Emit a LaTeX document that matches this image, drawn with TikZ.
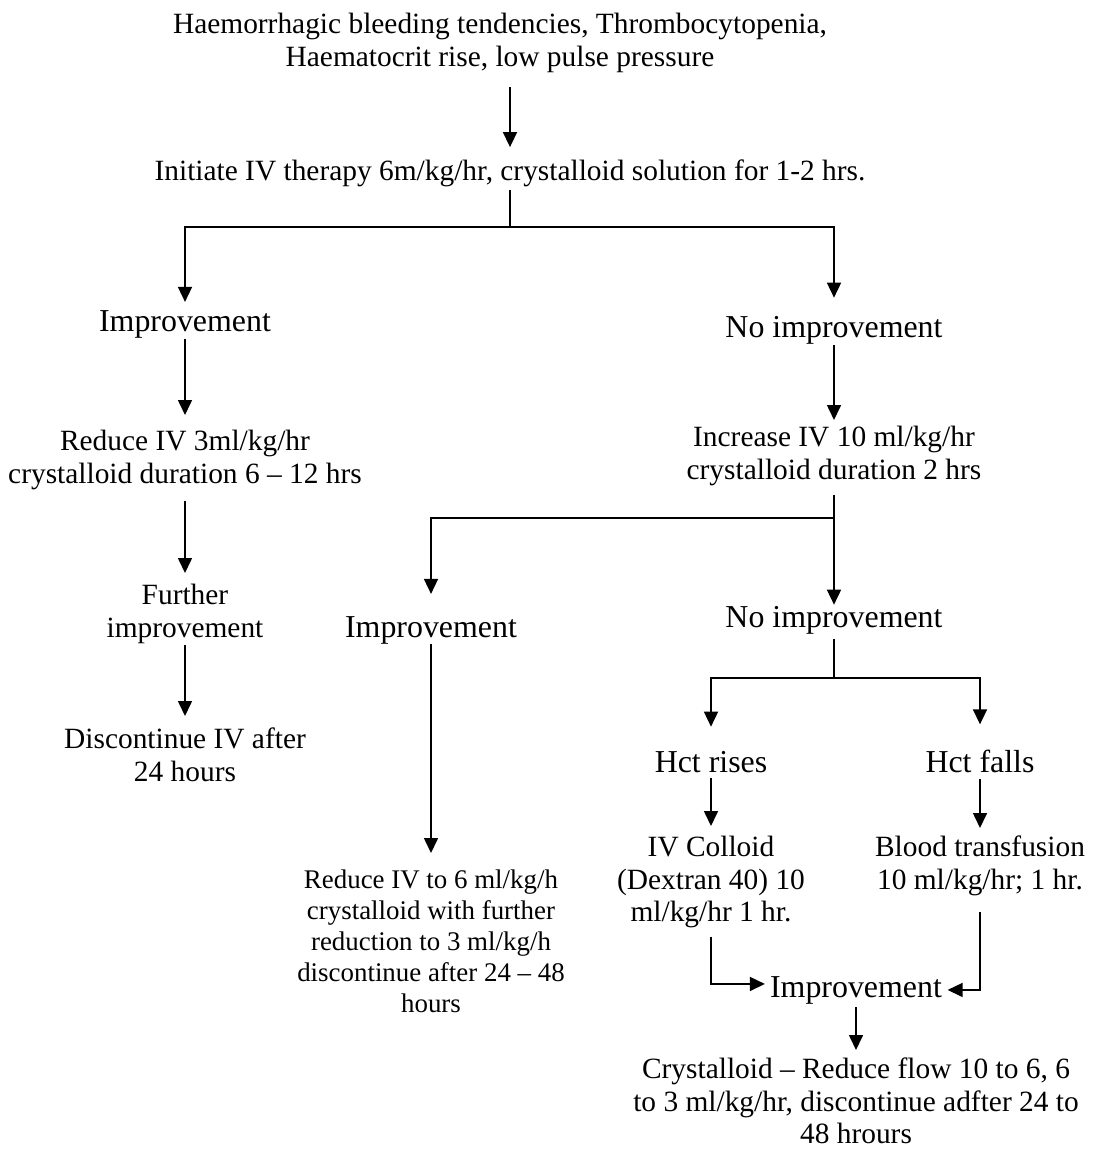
\documentclass[tikz,border=0pt]{standalone}
\usepackage{fontspec}
\setmainfont{Liberation Serif}
\usetikzlibrary{arrows.meta}
\begin{document}
\begin{tikzpicture}[x=1pt,y=-1pt,
  txt/.style={inner sep=0pt, align=center, font=\fontsize{29.4}{32.5}\selectfont},
  big/.style={inner sep=0pt, align=center, font=\fontsize{31.9}{36.7}\selectfont},
  small/.style={inner sep=0pt, align=center, font=\fontsize{26.9}{30.9}\selectfont},
  ln/.style={line width=1.6pt},
  arr/.style={line width=1.6pt, -{Triangle[length=15pt,width=14pt]}}]
\useasboundingbox (0,0) rectangle (1094,1153);
\fill[white] (0,0) rectangle (1094,1153);

\node[txt, anchor=north, font=\fontsize{29.4}{33.5}\selectfont] (top) at (500,12.9) {Haemorrhagic bleeding tendencies, Thrombocytopenia,\\ Haematocrit rise, low pulse pressure};
\node[txt, anchor=base] (init) at (510,180) {Initiate IV therapy 6m/kg/hr, crystalloid solution for 1-2 hrs.};
\node[big, anchor=base] (imp1) at (185,331) {Improvement};
\node[big, anchor=base] (noimp1) at (834,337) {No improvement};
\node[txt, anchor=north] (red1) at (185,430) {Reduce IV 3ml/kg/hr\\crystalloid duration 6 – 12 hrs};
\node[txt, anchor=north] (inc) at (834,426) {Increase IV 10 ml/kg/hr\\crystalloid duration 2 hrs};
\node[txt, anchor=north] (further) at (185,584) {Further\\improvement};
\node[txt, anchor=north] (disc) at (185,728) {Discontinue IV after\\24 hours};
\node[big, anchor=base] (imp2) at (431,637) {Improvement};
\node[big, anchor=base] (noimp2) at (834,627) {No improvement};
\node[small, anchor=north] (red2) at (431,869.6) {Reduce IV to 6 ml/kg/h\\crystalloid with further\\reduction to 3 ml/kg/h\\discontinue after 24 – 48\\hours};
\node[big, anchor=base] (hctr) at (711,772) {Hct rises};
\node[big, anchor=base] (hctf) at (980,772) {Hct falls};
\node[txt, anchor=north] (coll) at (711,836) {IV Colloid\\(Dextran 40) 10\\ml/kg/hr 1 hr.};
\node[txt, anchor=north] (blood) at (980,836) {Blood transfusion\\10 ml/kg/hr; 1 hr.};
\node[big, anchor=base] (imp3) at (856,997) {Improvement};
\node[txt, anchor=north] (final) at (856,1058) {Crystalloid – Reduce flow 10 to 6, 6\\to 3 ml/kg/hr, discontinue adfter 24 to\\48 hrours};

\coordinate (j1) at (510,227);
\coordinate (j2) at (834,518);
\coordinate (j3) at (834,678);

\draw[arr, shorten <=13.6pt, shorten >=12pt] (init.north |- top.south) -- (init.north);
\draw[ln, shorten <=3.6pt] (init.south) -- (j1);
\draw[arr, shorten >=8pt] (j1) -| (imp1.north);
\draw[arr, shorten >=18pt] (j1) -| (noimp1.north);
\draw[arr, shorten <=1pt, shorten >=15pt] (imp1.south) -- (red1.north);
\draw[arr, shorten <=1pt, shorten >=6pt] (noimp1.south) -- (inc.north);
\draw[arr, shorten <=11pt, shorten >=11pt] (red1.south) -- (further.north);
\draw[arr, shorten <=1.6pt, shorten >=12pt] (further.south) -- (disc.north);
\draw[ln, shorten <=9pt] (inc.south) -- (j2);
\draw[arr, shorten >=1pt] (j2) -- (noimp2.north);
\draw[arr, shorten >=22pt] (j2) -| (imp2.north);
\draw[arr, shorten >=16.6pt] (imp2.south) -- (red2.north);
\draw[ln, shorten <=5pt] (noimp2.south) -- (j3);
\draw[arr, shorten >=24pt] (j3) -| (hctr.north);
\draw[arr, shorten >=25pt] (j3) -| (hctf.north);
\draw[arr, shorten <=5pt, shorten >=10pt] (hctr.south) -- (coll.north);
\draw[arr, shorten <=6pt, shorten >=8pt] (hctf.south) -- (blood.north);
\draw[arr, shorten <=8.5pt, shorten >=5pt] (coll.south) |- ([yshift=6pt]imp3.west);
\draw[arr, shorten <=16pt, shorten >=5.5pt] (blood.south) |- (imp3.east);
\draw[arr, shorten <=3pt, shorten >=8pt] (imp3.south) -- (final.north);
\end{tikzpicture}
\end{document}
